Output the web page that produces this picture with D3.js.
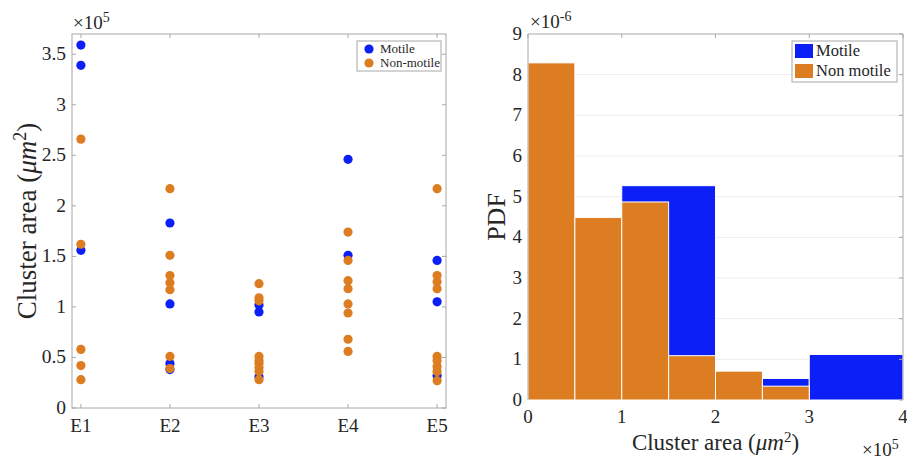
<!DOCTYPE html>
<html><head><meta charset="utf-8">
<script src="https://cdn.jsdelivr.net/npm/d3@7"></script>
<style>body{margin:0;background:#fff}svg{display:block}text{font-family:"Liberation Serif","Times New Roman",serif;fill:#262626}</style>
</head><body>
<svg id="c" width="907" height="462"></svg>
<script>
// ---------- data (left: cluster areas in units of 1e5 um^2) ----------
const experiments = ["E1","E2","E3","E4","E5"];
const motileE1 = [3.59, 3.39, 1.56];
const motileE2 = [1.83, 1.03, 0.44, 0.38];
const motileE3 = [1.02, 0.95, 0.31];
const motileE4 = [2.46, 1.51];
const motileE5 = [1.46, 1.05, 0.32];
const nonMotileE1 = [2.66, 1.62, 0.58, 0.42, 0.28];
const nonMotileE2 = [2.17, 1.51, 1.31, 1.24, 1.17, 0.51, 0.39];
const nonMotileE3 = [1.23, 1.09, 1.06, 0.51, 0.47, 0.44, 0.40, 0.36, 0.28];
const nonMotileE4 = [1.74, 1.46, 1.26, 1.18, 1.03, 0.94, 0.68, 0.56];
const nonMotileE5 = [2.17, 1.31, 1.25, 1.18, 0.51, 0.47, 0.41, 0.36, 0.27];
const leftYTicks = [0, 0.5, 1, 1.5, 2, 2.5, 3, 3.5];
const leftYTickLabels = ["0","0.5","1","1.5","2","2.5","3","3.5"];

// ---------- data (right: histogram PDF, x in 1e5 um^2, y in 1e-6) ----------
const nonMotileBinStart = [0, 0.5, 1, 1.5, 2, 2.5];
const nonMotileBinEnd   = [0.5, 1, 1.5, 2, 2.5, 3];
const nonMotilePdf      = [8.29, 4.49, 4.87, 1.09, 0.71, 0.34];
const motileBinStart = [1, 2.5, 3];
const motileBinEnd   = [2, 3, 4];
const motilePdf      = [5.27, 0.53, 1.12];
const rightXTicks = [0, 1, 2, 3, 4];
const rightYTicks = [0,1,2,3,4,5,6,7,8,9];

const BLUE = "#0b1ff6", ORANGE = "#dd7d22", AX = "#a8a8a8";
const svg = d3.select("#c");

// ================= LEFT PANEL =================
const L = {x0:72, x1:446, y0:34, y1:408};
const lx = d3.scaleLinear().domain([0.9, 5.1]).range([L.x0, L.x1]);
const ly = d3.scaleLinear().domain([0, 3.7]).range([L.y1, L.y0]);
const gl = svg.append("g");

gl.append("rect").attr("x",L.x0).attr("y",L.y0).attr("width",L.x1-L.x0).attr("height",L.y1-L.y0)
  .attr("fill","none").attr("stroke",AX).attr("stroke-width",1);
const xIdx = experiments.map((d,i)=>i+1);
gl.selectAll(".lxb").data(xIdx).join("line").attr("x1",d=>lx(d)).attr("x2",d=>lx(d))
  .attr("y1",L.y1).attr("y2",L.y1-4).attr("stroke",AX);
gl.selectAll(".lxt").data(xIdx).join("line").attr("x1",d=>lx(d)).attr("x2",d=>lx(d))
  .attr("y1",L.y0).attr("y2",L.y0+4).attr("stroke",AX);
gl.selectAll(".lyl").data(leftYTicks).join("line").attr("x1",L.x0).attr("x2",L.x0+4)
  .attr("y1",d=>ly(d)).attr("y2",d=>ly(d)).attr("stroke",AX);
gl.selectAll(".lyr").data(leftYTicks).join("line").attr("x1",L.x1).attr("x2",L.x1-4)
  .attr("y1",d=>ly(d)).attr("y2",d=>ly(d)).attr("stroke",AX);
gl.selectAll(".lxl").data(experiments).join("text").attr("x",(d,i)=>lx(i+1)).attr("y",L.y1+24)
  .attr("text-anchor","middle").attr("font-size",19).text(d=>d);
gl.selectAll(".lyt").data(leftYTicks).join("text").attr("x",L.x0-6).attr("y",d=>ly(d)+6)
  .attr("text-anchor","end").attr("font-size",19.5).text((d,i)=>leftYTickLabels[i]);
const e1 = gl.append("text").attr("x",L.x0+1).attr("y",29).attr("font-size",19);
e1.append("tspan").text("\u00d710");
e1.append("tspan").attr("dy",-7).attr("font-size",14).text("5");
const yl = gl.append("text").attr("transform",`translate(36,${(L.y0+L.y1)/2}) rotate(-90)`)
  .attr("text-anchor","middle").attr("font-size",27);
yl.append("tspan").text("Cluster area (");
yl.append("tspan").attr("font-style","italic").text("\u03bcm");
yl.append("tspan").attr("dy",-10).attr("font-size",18).text("2");
yl.append("tspan").attr("dy",10).text(")");

const motileAll = [motileE1, motileE2, motileE3, motileE4, motileE5];
const nonMotileAll = [nonMotileE1, nonMotileE2, nonMotileE3, nonMotileE4, nonMotileE5];
experiments.forEach((e,i)=>{
  gl.selectAll(null).data(motileAll[i]).join("circle").attr("cx",lx(i+1)).attr("cy",d=>ly(d))
    .attr("r",4.6).attr("fill",BLUE);
  gl.selectAll(null).data(nonMotileAll[i]).join("circle").attr("cx",lx(i+1)).attr("cy",d=>ly(d))
    .attr("r",4.6).attr("fill",ORANGE);
});
const lg = gl.append("g");
lg.append("rect").attr("x",357).attr("y",41).attr("width",84).attr("height",30)
  .attr("fill","#fff").attr("stroke",AX);
lg.append("circle").attr("cx",369).attr("cy",49).attr("r",4.6).attr("fill",BLUE);
lg.append("circle").attr("cx",369).attr("cy",63).attr("r",4.6).attr("fill",ORANGE);
lg.append("text").attr("x",380).attr("y",53).attr("font-size",13).text("Motile");
lg.append("text").attr("x",380).attr("y",67).attr("font-size",13).text("Non-motile");

// ================= RIGHT PANEL =================
const R = {x0:528, x1:903, y0:34, y1:400};
const rx = d3.scaleLinear().domain([0,4]).range([R.x0, R.x1]);
const ry = d3.scaleLinear().domain([0,9]).range([R.y1, R.y0]);
const gr = svg.append("g");
gr.selectAll(".grid").data(rightYTicks.slice(1,-1)).join("line").attr("x1",R.x0).attr("x2",R.x1)
  .attr("y1",d=>ry(d)).attr("y2",d=>ry(d)).attr("stroke","#ececec");
gr.selectAll(".mb").data(motilePdf).join("rect")
  .attr("x",(d,i)=>rx(motileBinStart[i])).attr("width",(d,i)=>rx(motileBinEnd[i])-rx(motileBinStart[i]))
  .attr("y",d=>ry(d)).attr("height",d=>ry(0)-ry(d))
  .attr("fill",BLUE).attr("stroke","#fff").attr("stroke-width",1);
gr.selectAll(".nb").data(nonMotilePdf).join("rect")
  .attr("x",(d,i)=>rx(nonMotileBinStart[i])).attr("width",(d,i)=>rx(nonMotileBinEnd[i])-rx(nonMotileBinStart[i]))
  .attr("y",d=>ry(d)).attr("height",d=>ry(0)-ry(d))
  .attr("fill",ORANGE).attr("stroke","#fff").attr("stroke-width",1);
gr.append("path").attr("d",`M${R.x0},${R.y1}V${R.y0}H${R.x1}V${R.y1}`).attr("fill","none").attr("stroke",AX);
gr.selectAll(".rxt").data(rightXTicks).join("line").attr("x1",d=>rx(d)).attr("x2",d=>rx(d))
  .attr("y1",R.y0).attr("y2",R.y0+4).attr("stroke",AX);
gr.selectAll(".ryr").data(rightYTicks).join("line").attr("x1",R.x1).attr("x2",R.x1-4)
  .attr("y1",d=>ry(d)).attr("y2",d=>ry(d)).attr("stroke",AX);
gr.selectAll(".rxl").data(rightXTicks).join("text").attr("x",d=>rx(d)).attr("y",R.y1+23)
  .attr("text-anchor","middle").attr("font-size",19).text(d=>d);
gr.selectAll(".ryl").data(rightYTicks).join("text").attr("x",R.x0-6).attr("y",d=>ry(d)+6)
  .attr("text-anchor","end").attr("font-size",19).text(d=>d);
const e2 = gr.append("text").attr("x",R.x0+2).attr("y",28).attr("font-size",19);
e2.append("tspan").text("\u00d710");
e2.append("tspan").attr("dy",-7).attr("font-size",14).text("-6");
const e3 = gr.append("text").attr("x",862).attr("y",456).attr("font-size",19);
e3.append("tspan").text("\u00d710");
e3.append("tspan").attr("dy",-7).attr("font-size",14).text("5");
const xlr = gr.append("text").attr("x",(R.x0+R.x1)/2).attr("y",450).attr("text-anchor","middle").attr("font-size",23);
xlr.append("tspan").text("Cluster area (");
xlr.append("tspan").attr("font-style","italic").text("\u03bcm");
xlr.append("tspan").attr("dy",-8).attr("font-size",15).text("2");
xlr.append("tspan").attr("dy",8).text(")");
gr.append("text").attr("transform",`translate(505,${(R.y0+R.y1)/2}) rotate(-90)`)
  .attr("text-anchor","middle").attr("font-size",26).text("PDF");
const rg = gr.append("g");
rg.append("rect").attr("x",792).attr("y",41).attr("width",105).attr("height",41).attr("fill","#fff").attr("stroke",AX);
rg.append("rect").attr("x",795).attr("y",44).attr("width",18).attr("height",14).attr("fill",BLUE);
rg.append("rect").attr("x",795).attr("y",64).attr("width",18).attr("height",14).attr("fill",ORANGE);
rg.append("text").attr("x",816).attr("y",56).attr("font-size",16.5).text("Motile");
rg.append("text").attr("x",816).attr("y",76).attr("font-size",16.5).text("Non motile");
</script>
</body></html>
